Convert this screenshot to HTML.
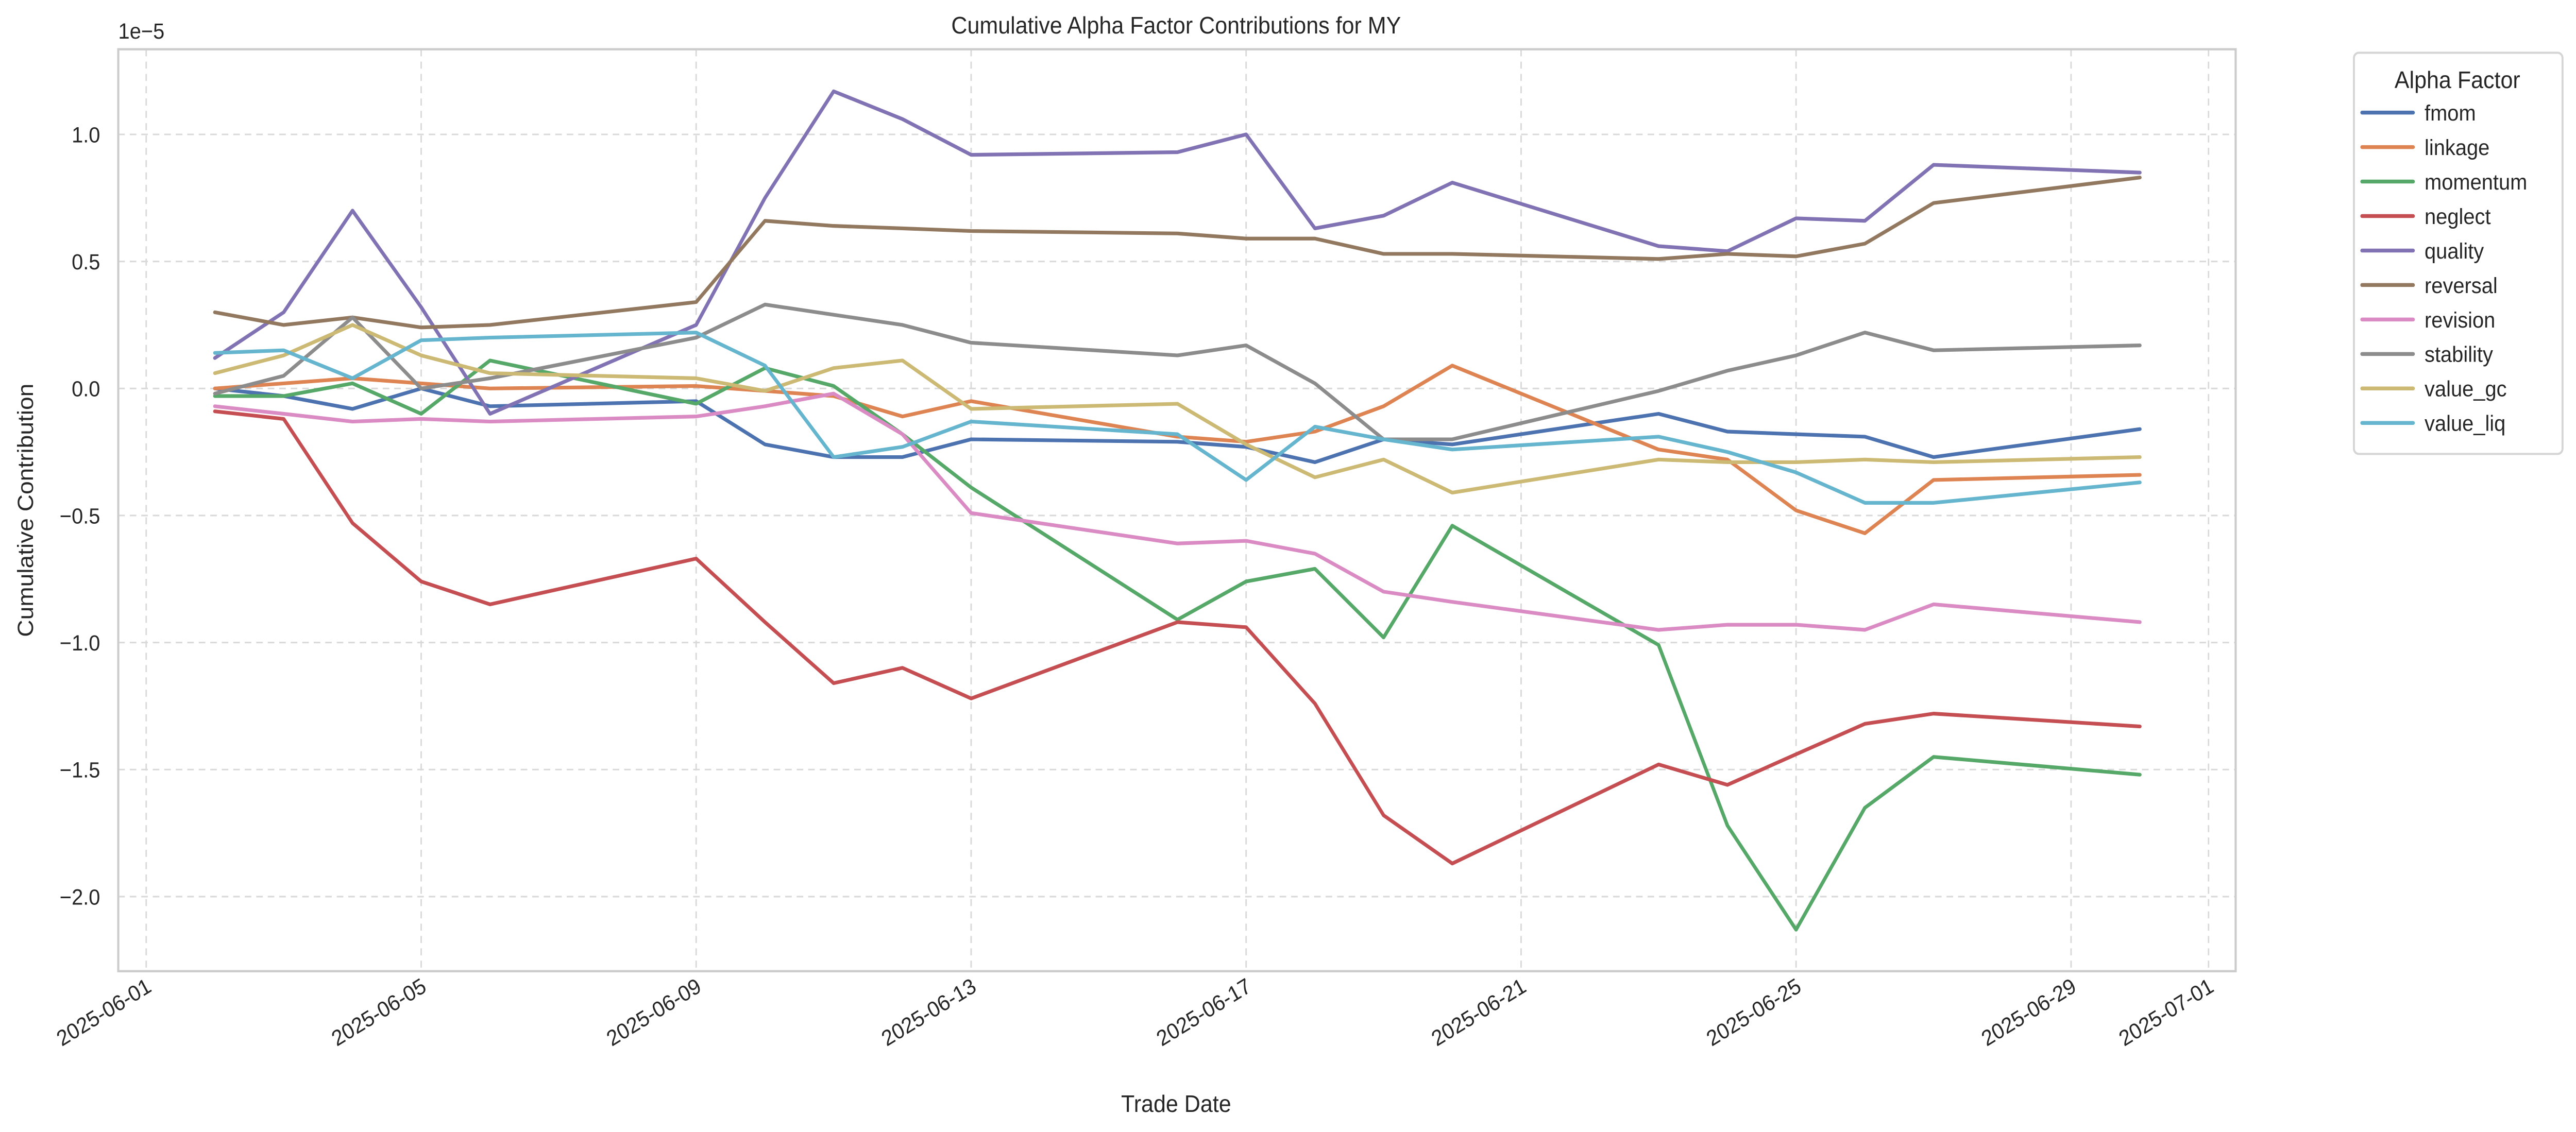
<!DOCTYPE html>
<html><head><meta charset="utf-8"><style>
html,body{margin:0;padding:0;background:#fff;width:100%;height:100%;overflow:hidden;}
svg{display:block;width:100vw;height:100vh;font-family:"Liberation Sans","DejaVu Sans",sans-serif;}
</style></head><body>
<svg id="s" viewBox="0 0 1568.2 643.4" preserveAspectRatio="none" xmlns="http://www.w3.org/2000/svg">
<rect width="1568.2" height="643.4" fill="#fff"/>
<g id="grid" stroke="#d9d9d9" stroke-width="0.9" stroke-dasharray="4,3"></g>
<rect x="72" y="28" width="1289" height="524" fill="none" stroke="#cccccc" stroke-width="1.3"/>
<g id="lines" fill="none" stroke-width="2.1" stroke-linejoin="round" stroke-linecap="round"></g>
<g id="labels" fill="#262626" font-size="12.5"></g>
<text x="716" y="19" text-anchor="middle" font-size="13.5" fill="#262626">Cumulative Alpha Factor Contributions for MY</text>
<text x="72" y="22" font-size="12.5" fill="#262626">1e−5</text>
<text x="716" y="632" text-anchor="middle" font-size="13.5" fill="#262626">Trade Date</text>
<text transform="translate(20,290) rotate(-90)" text-anchor="middle" font-size="13.5" fill="#262626">Cumulative Contribution</text>
<rect x="1433" y="30" width="127" height="228" rx="3" fill="#fff" stroke="#d5d5d5" stroke-width="1.2"/>
<text x="1496" y="50" text-anchor="middle" font-size="13.5" fill="#262626">Alpha Factor</text>
<g id="leg" font-size="12.5" fill="#262626"></g>
</svg>
<script>
var NS="http://www.w3.org/2000/svg";
function el(t,a,p,txt){var e=document.createElementNS(NS,t);for(var k in a)e.setAttribute(k,a[k]);if(txt)e.textContent=txt;document.getElementById(p).appendChild(e);return e;}
function X(d){return 89+(d-1)*41.85;}
function Y(v){return 220.8-v*144.4;}
[1,5,9,13,17,21,25,29,31].forEach(function(d){el('line',{x1:X(d),x2:X(d),y1:28,y2:552},'grid');});
[1,0.5,0,-0.5,-1,-1.5,-2].forEach(function(v){el('line',{x1:72,x2:1361,y1:Y(v),y2:Y(v)},'grid');
 el('text',{x:61,y:Y(v)+4.5,'text-anchor':'end'},'labels',(v<0?'−':'')+Math.abs(v).toFixed(1));});
var dl=[[1,'2025-06-01'],[5,'2025-06-05'],[9,'2025-06-09'],[13,'2025-06-13'],[17,'2025-06-17'],[21,'2025-06-21'],[25,'2025-06-25'],[29,'2025-06-29'],[31,'2025-07-01']];
dl.forEach(function(p){var x=X(p[0])+4,y=563;el('text',{x:x,y:y,'text-anchor':'end',transform:'rotate(-30 '+x+' '+y+')'},'labels',p[1]);});
var days=[2,3,4,5,6,9,10,11,12,13,16,17,18,19,20,23,24,25,26,27,30];
var S=[
['fmom','#4c72b0',[0.0,-0.03,-0.08,0.0,-0.07,-0.05,-0.22,-0.27,-0.27,-0.2,-0.21,-0.23,-0.29,-0.2,-0.22,-0.1,-0.17,-0.18,-0.19,-0.27,-0.16]],
['linkage','#dd8452',[0.0,0.02,0.04,0.02,0.0,0.01,-0.01,-0.03,-0.11,-0.05,-0.19,-0.21,-0.17,-0.07,0.09,-0.24,-0.28,-0.48,-0.57,-0.36,-0.34]],
['momentum','#55a868',[-0.03,-0.03,0.02,-0.1,0.11,-0.06,0.08,0.01,-0.18,-0.39,-0.91,-0.76,-0.71,-0.98,-0.54,-1.01,-1.72,-2.13,-1.65,-1.45,-1.52]],
['neglect','#c44e52',[-0.09,-0.12,-0.53,-0.76,-0.85,-0.67,-0.92,-1.16,-1.1,-1.22,-0.92,-0.94,-1.24,-1.68,-1.87,-1.48,-1.56,-1.44,-1.32,-1.28,-1.33]],
['quality','#8172b3',[0.12,0.3,0.7,0.32,-0.1,0.25,0.75,1.17,1.06,0.92,0.93,1.0,0.63,0.68,0.81,0.56,0.54,0.67,0.66,0.88,0.85]],
['reversal','#937860',[0.3,0.25,0.28,0.24,0.25,0.34,0.66,0.64,0.63,0.62,0.61,0.59,0.59,0.53,0.53,0.51,0.53,0.52,0.57,0.73,0.83]],
['revision','#da8bc3',[-0.07,-0.1,-0.13,-0.12,-0.13,-0.11,-0.07,-0.02,-0.18,-0.49,-0.61,-0.6,-0.65,-0.8,-0.84,-0.95,-0.93,-0.93,-0.95,-0.85,-0.92]],
['stability','#8c8c8c',[-0.02,0.05,0.28,0.0,0.04,0.2,0.33,0.29,0.25,0.18,0.13,0.17,0.02,-0.2,-0.2,-0.01,0.07,0.13,0.22,0.15,0.17]],
['value_gc','#ccb974',[0.06,0.13,0.25,0.13,0.06,0.04,-0.01,0.08,0.11,-0.08,-0.06,-0.22,-0.35,-0.28,-0.41,-0.28,-0.29,-0.29,-0.28,-0.29,-0.27]],
['value_liq','#64b5cd',[0.14,0.15,0.04,0.19,0.2,0.22,0.09,-0.27,-0.23,-0.13,-0.18,-0.36,-0.15,-0.2,-0.24,-0.19,-0.25,-0.33,-0.45,-0.45,-0.37]]];
S.forEach(function(s,i){
 var pts=s[2].map(function(v,j){return X(days[j]).toFixed(1)+','+Y(v).toFixed(1);}).join(' ');
 el('polyline',{points:pts,stroke:s[1]},'lines');
 var y=64+i*19.6;
 el('line',{x1:1438,x2:1469,y1:y,y2:y,stroke:s[1],'stroke-width':2.2,'stroke-linecap':'round'},'leg');
 el('text',{x:1476,y:y+4.5},'leg',s[0]);
});
</script>
</body></html>
